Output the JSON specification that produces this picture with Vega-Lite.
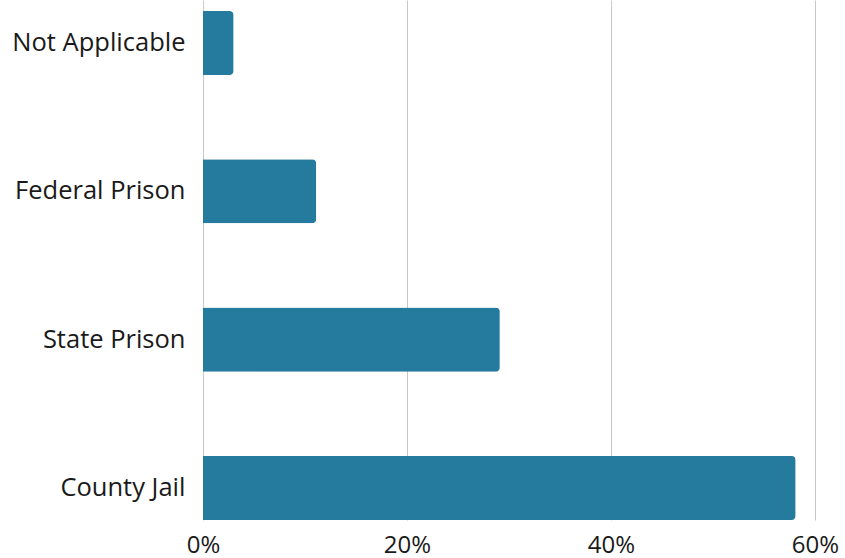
{
  "$schema": "https://vega.github.io/schema/vega-lite/v6.json",
  "width": 612,
  "height": 520,
  "autosize": {"type": "none"},
  "padding": {"left": 203, "top": 0, "right": 30, "bottom": 38},
  "background": "white",
  "data": {
    "values": [
      {"category": "Not Applicable", "share": 0.03},
      {"category": "Federal Prison", "share": 0.111},
      {"category": "State Prison", "share": 0.291},
      {"category": "County Jail", "share": 0.581}
    ]
  },
  "mark": {"type": "bar", "color": "#247B9E", "cornerRadiusEnd": 4},
  "encoding": {
    "y": {
      "field": "category",
      "type": "nominal",
      "sort": null,
      "scale": {"paddingInner": 0.568, "paddingOuter": 0.037, "align": 1},
      "axis": {
        "title": null,
        "domain": false,
        "ticks": false,
        "grid": false,
        "labelPadding": 18,
        "labelFont": "Open Sans",
        "labelFontSize": 25.5,
        "labelColor": "#1a1a1a"
      }
    },
    "x": {
      "field": "share",
      "type": "quantitative",
      "scale": {"domain": [0, 0.6], "nice": false},
      "axis": {
        "title": null,
        "format": "%",
        "values": [0, 0.2, 0.4, 0.6],
        "domain": false,
        "ticks": false,
        "grid": true,
        "gridColor": "#c8c8c8",
        "gridWidth": 1,
        "labelPadding": 13,
        "labelFont": "Open Sans",
        "labelFontSize": 24,
        "labelColor": "#1a1a1a",
        "labelFlush": false
      }
    }
  },
  "config": {"view": {"stroke": null}}
}
